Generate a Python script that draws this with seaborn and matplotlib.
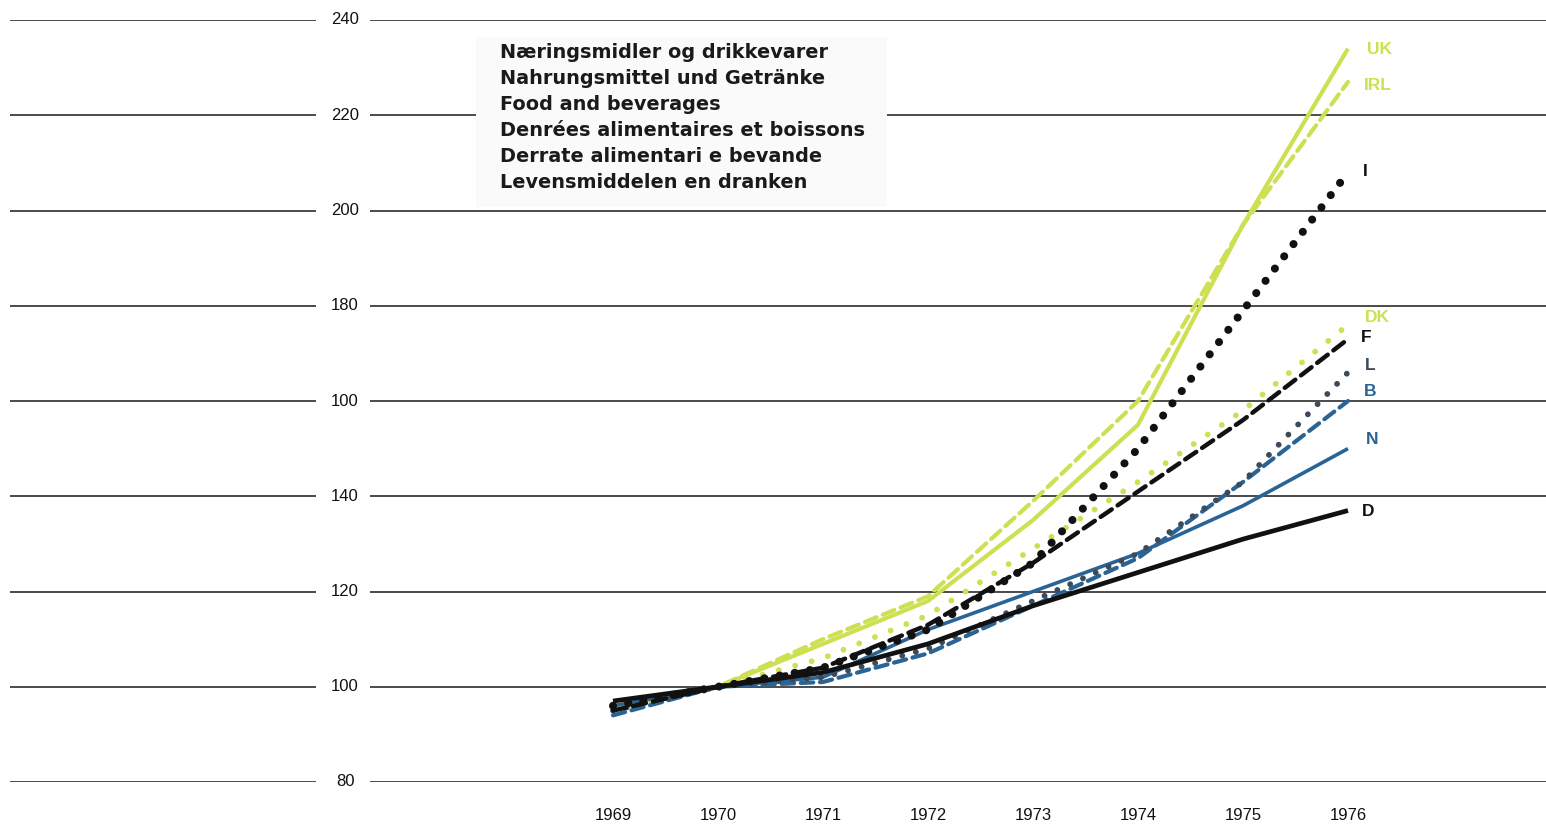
import numpy as np
import pandas as pd
import matplotlib
matplotlib.use("Agg")
import matplotlib.pyplot as plt
import seaborn as sns

years = [1969, 1970, 1971, 1972, 1973, 1974, 1975, 1976]

uk = [96, 100, 109, 118, 135, 155, 197, 234]
irl = [95, 100, 110, 119, 139, 160, 197, 227]
i_it = [96, 100, 104, 112, 126, 150, 179, 208]
dk = [96, 100, 106, 115, 129, 143, 158, 176]
f_fr = [95, 100, 104, 113, 126, 141, 156, 173]
l_lu = [95, 100, 102, 108, 118, 128, 143, 166]
b_be = [94, 100, 101, 107, 117, 127, 143, 160]
n_nl = [96, 100, 102, 112, 120, 128, 138, 150]
d_de = [97, 100, 103, 109, 117, 124, 131, 137]

y_ticks = [80, 100, 120, 140, 160, 180, 200, 220, 240]
y_labels = ["80", "100", "120", "140", "100", "180", "200", "220", "240"]

title_lines = [
    "Næringsmidler og drikkevarer",
    "Nahrungsmittel und Getränke",
    "Food and beverages",
    "Denrées alimentaires et boissons",
    "Derrate alimentari e bevande",
    "Levensmiddelen en dranken",
]

sns.set_theme(style="white")
plt.rcParams["font.family"] = ["Liberation Sans", "DejaVu Sans"]

W, H = 1546, 827
fig = plt.figure(figsize=(W / 100, H / 100), dpi=100)
fig.patch.set_facecolor("white")
ax = fig.add_axes([10 / W, 1 - 782 / H, 1536 / W, 762 / H])

px_per_year = 105
x0 = 1969 - 603 / px_per_year
x1 = 1976 + 198 / px_per_year
ax.set_xlim(x0, x1)
ax.set_ylim(80, 240)
ax.axis("off")

def px2x(p):
    return 1969 + (p - 613) / px_per_year

# horizontal rules with a gap for the value labels
for v, lab in zip(y_ticks, y_labels):
    ax.hlines(v, x0, px2x(316), color="#1a1a1a", lw=1.1, zorder=1)
    ax.hlines(v, px2x(370), x1, color="#1a1a1a", lw=1.1, zorder=1)
    ax.text(px2x(345), v, lab, ha="center", va="center", fontsize=12,
            family=["Liberation Sans Narrow", "Liberation Sans"], color="#111")

green = "#cde052"
blue = "#2a6496"
dark = "#3d4a5a"
black = "#111111"

series = [
    ("UK", uk, green, "-", 3.0),
    ("IRL", irl, green, (0, (3.0, 1.6)), 3.0),
    ("DK", dk, green, (0, (0.01, 2.9)), 4.2),
    ("N", n_nl, blue, "-", 2.6),
    ("B", b_be, blue, (0, (3.0, 1.6)), 3.0),
    ("L", l_lu, dark, (0, (0.01, 2.4)), 4.2),
    ("I", i_it, black, (0, (0.01, 1.9)), 5.8),
    ("F", f_fr, black, (0, (3.0, 1.6)), 3.2),
    ("D", d_de, black, "-", 3.4),
]

for k, (name, vals, col, ls, lw) in enumerate(series):
    sns.lineplot(x=years, y=vals, ax=ax, color=col, linestyle=ls, lw=lw,
                 dash_capstyle="round", solid_capstyle="butt", zorder=3 + k)

# year labels
for yr in years:
    fig.text((613 + (yr - 1969) * px_per_year) / W, 1 - 816 / H, str(yr),
             ha="center", va="center", fontsize=12,
             family=["Liberation Sans Narrow", "Liberation Sans"], color="#111")

# title block
for j, line in enumerate(title_lines):
    fig.text(500 / W, 1 - (53 + 26 * j) / H, line, ha="left", va="center",
             fontsize=13.9, fontweight="bold", family=["DejaVu Sans"],
             color="#1a1a1a", zorder=20)
fig.patches.append(plt.Rectangle((476 / W, 1 - 207 / H), 411 / W, 170 / H,
                                 transform=fig.transFigure, facecolor="#fafafa",
                                 edgecolor="none", zorder=10))

# series end labels
end_labels = [
    ("UK", 1380, 49, green), ("IRL", 1378, 86, green), ("I", 1365, 172, black),
    ("DK", 1377, 317, green), ("F", 1366, 337, black), ("L", 1370, 366, dark),
    ("B", 1370, 392, blue), ("N", 1372, 439, blue), ("D", 1368, 511, black),
]
for txt, px, py, col in end_labels:
    fig.text(px / W, 1 - py / H, txt, ha="center", va="center", fontsize=12.5,
             fontweight="bold", color=col)

fig.savefig("out.png", dpi=100, facecolor="white")
